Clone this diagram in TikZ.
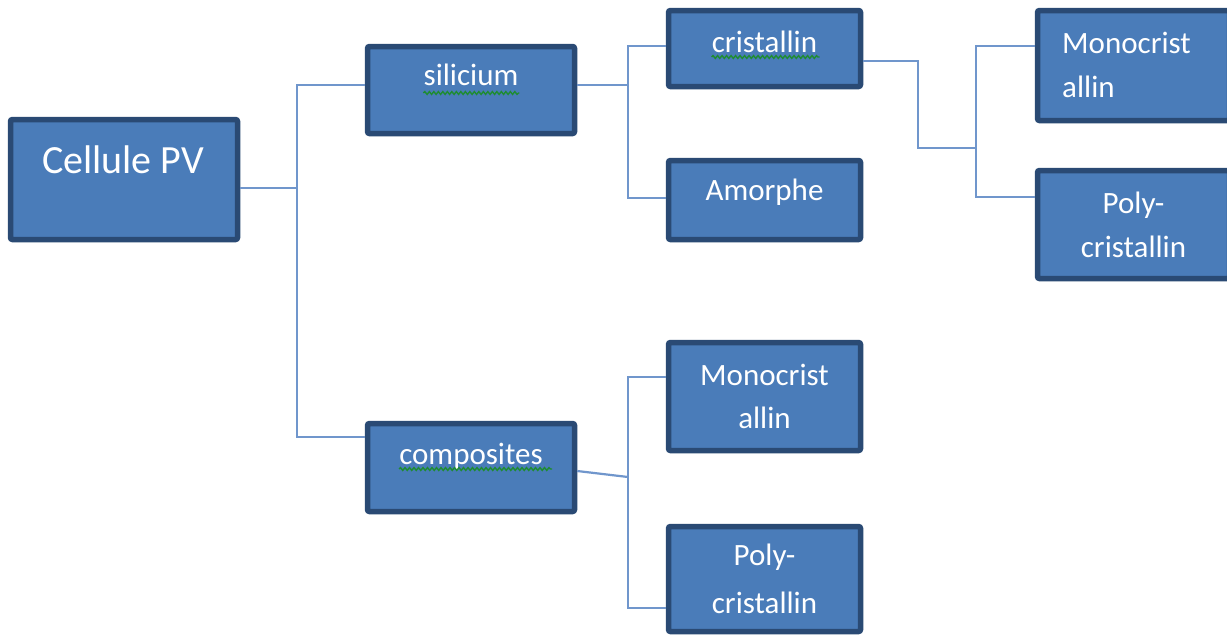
\documentclass[tikz,border=0pt]{standalone}
\usepackage{fontspec}
\setmainfont{Carlito}
\usetikzlibrary{decorations.pathmorphing}
\definecolor{boxfill}{RGB}{74,124,185}
\definecolor{boxedge}{RGB}{42,74,116}
\definecolor{linecol}{RGB}{112,150,204}
\definecolor{squig}{RGB}{30,140,50}
\begin{document}
\begin{tikzpicture}[x=1pt,y=-1pt,
  box/.style={draw=boxedge, fill=boxfill, line width=5.5pt, rounded corners=2pt, inner sep=0pt},
  lbl/.style={text=white, font=\fontsize{31}{37}\selectfont, inner sep=0pt, anchor=base},
  biglbl/.style={lbl, font=\fontsize{40}{48}\selectfont},
  conn/.style={draw=linecol, line width=2.2pt},
  squiggle/.style={draw=squig, line width=1.4pt, decorate, decoration={snake, amplitude=1.4pt, segment length=4.5pt}}]
\clip (0,0) rectangle (1227,635);
\fill[white] (0,0) rectangle (1227,635);
% boxes
\node[box, minimum width=227pt, minimum height=120pt] (cell)  at (124,179.5) {};
\node[box, minimum width=207pt, minimum height=87pt]  (sil)   at (471,90) {};
\node[box, minimum width=207pt, minimum height=88pt]  (comp)  at (471,467.5) {};
\node[box, minimum width=192pt, minimum height=76pt]  (cris)  at (764.5,48.5) {};
\node[box, minimum width=192pt, minimum height=79pt]  (amor)  at (764.5,200) {};
\node[box, minimum width=192pt, minimum height=110pt] (mono1) at (1133.5,65.5) {};
\node[box, minimum width=192pt, minimum height=108pt] (poly1) at (1133.5,224.5) {};
\node[box, minimum width=192pt, minimum height=108pt] (mono2) at (764.5,396.5) {};
\node[box, minimum width=192pt, minimum height=105pt] (poly2) at (764.5,579) {};
% junction coordinates
\coordinate (j1) at (297,188);
\coordinate (a1) at (297,85);
\coordinate (a2) at (297,437);
\coordinate (j2) at (628,85);
\coordinate (b1) at (628,46);
\coordinate (b2) at (628,198);
\coordinate (k0) at (0,61);
\coordinate (k1) at (918,148);
\coordinate (k2) at (976,148);
\coordinate (c1) at (976,46);
\coordinate (c2) at (976,197);
\coordinate (m0) at (0,471);
\coordinate (j4) at (628,477);
\coordinate (d1) at (628,377);
\coordinate (d2) at (628,608);
% connectors
\draw[conn] (cell.east |- j1) -- (j1);
\draw[conn] (sil.west |- a1) -| (a2) -- (comp.west |- a2);
\draw[conn] (sil.east |- j2) -- (j2);
\draw[conn] (cris.west |- b1) -| (b2) -- (amor.west |- b2);
\draw[conn] (cris.east |- k0) -| (k1) -- (k2);
\draw[conn] (mono1.west |- c1) -| (c2) -- (poly1.west |- c2);
\draw[conn] (comp.east |- m0) -- (j4);
\draw[conn] (mono2.west |- d1) -| (d2) -- (poly2.west |- d2);
% labels
\node[biglbl] (tcell) at (123,173) {Cellule PV};
\node[lbl] (tsil) at (471,85) {silicium};
\node[lbl] (tcomp) at (471,464) {composites};
\node[lbl] (tcris) at (764.5,52) {cristallin};
\node[lbl] (tamor) at (764.5,200) {Amorphe};
\node[lbl, anchor=base west] (tm1a) at (1062,53) {Monocrist};
\node[lbl, anchor=base west] (tm1b) at (1062,97) {allin};
\node[lbl] (tp1a) at (1133.5,213) {Poly-};
\node[lbl] (tp1b) at (1133.5,257) {cristallin};
\node[lbl] (tm2a) at (764.5,385) {Monocrist};
\node[lbl] (tm2b) at (764.5,428) {allin};
\node[lbl] (tp2a) at (764.5,565) {Poly-};
\node[lbl] (tp2b) at (764.5,613) {cristallin};
% spell-check underlines
\draw[squiggle] (tsil.base west) ++(0,8) -- ++(96,0);
\draw[squiggle] (tcris.base west) ++(0,5) -- ++(108,0);
\draw[squiggle] (tcomp.base west) ++(0,5) -- ++(153,0);
\end{tikzpicture}
\end{document}
